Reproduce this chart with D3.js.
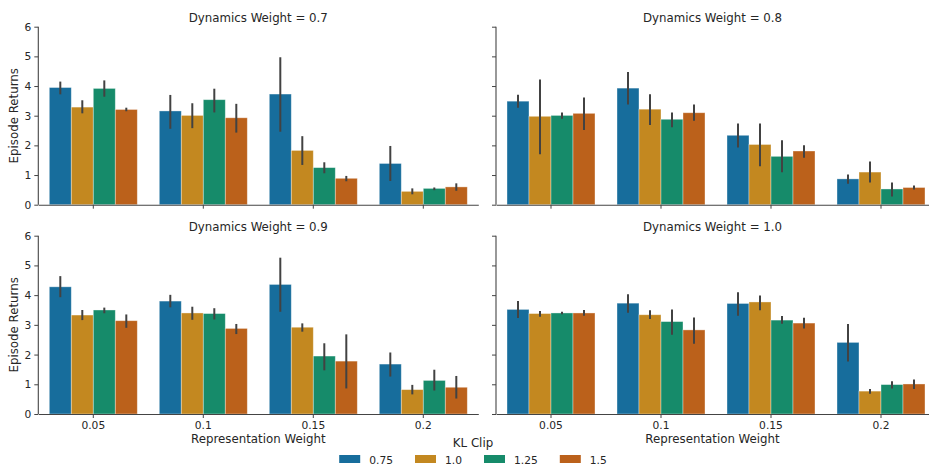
<!DOCTYPE html>
<html>
<head>
<meta charset="utf-8">
<script src="https://cdn.jsdelivr.net/npm/d3@7"></script>
<style>
  body { margin: 0; background: #fff; }
  svg { display: block; font-family: "DejaVu Sans", sans-serif; }
</style>
</head>
<body>
<svg id="chart" width="929" height="468"></svg>
<script>
// the data
const repWeights = ["0.05", "0.1", "0.15", "0.2"];
const klClips = ["0.75", "1.0", "1.25", "1.5"];
const dynWeights = ["0.7", "0.8", "0.9", "1.0"];
const yTicks = [0, 1, 2, 3, 4, 5, 6];

// mean returns, one row per rep weight, one column per KL clip
const means07 = [[3.95, 3.29, 3.92, 3.21], [3.16, 3.01, 3.54, 2.93], [3.73, 1.83, 1.25, 0.89], [1.39, 0.45, 0.55, 0.60]];
const means08 = [[3.49, 2.98, 3.01, 3.08], [3.93, 3.22, 2.88, 3.10], [2.34, 2.03, 1.63, 1.81], [0.87, 1.10, 0.53, 0.58]];
const means09 = [[4.28, 3.33, 3.50, 3.14], [3.80, 3.40, 3.38, 2.88], [4.36, 2.92, 1.95, 1.78], [1.68, 0.82, 1.13, 0.90]];
const means10 = [[3.52, 3.38, 3.40, 3.40], [3.73, 3.34, 3.11, 2.83], [3.72, 3.77, 3.16, 3.06], [2.41, 0.77, 0.99, 1.01]];

// confidence intervals [low, high]
const ci07 = [[[3.72, 4.15], [3.08, 3.52], [3.64, 4.19], [3.15, 3.27]],
              [[2.56, 3.70], [2.58, 3.42], [3.11, 3.91], [2.43, 3.40]],
              [[2.46, 4.97], [1.34, 2.31], [1.06, 1.43], [0.79, 0.97]],
              [[0.80, 1.98], [0.35, 0.55], [0.49, 0.58], [0.47, 0.72]]];
const ci08 = [[[3.27, 3.71], [1.70, 4.22], [2.90, 3.11], [2.52, 3.61]],
              [[3.38, 4.47], [2.69, 3.72], [2.61, 3.11], [2.83, 3.38]],
              [[1.93, 2.74], [1.30, 2.74], [1.09, 2.17], [1.58, 2.00]],
              [[0.71, 1.02], [0.75, 1.46], [0.28, 0.75], [0.51, 0.65]]];
const ci09 = [[[3.93, 4.64], [3.16, 3.50], [3.39, 3.58], [2.90, 3.35]],
              [[3.59, 4.01], [3.17, 3.61], [3.18, 3.56], [2.69, 3.03]],
              [[3.44, 5.26], [2.77, 3.05], [1.47, 2.38], [0.86, 2.68]],
              [[1.26, 2.07], [0.66, 0.98], [0.79, 1.49], [0.52, 1.28]]];
const ci10 = [[[3.23, 3.80], [3.27, 3.47], [3.36, 3.44], [3.31, 3.50]],
              [[3.41, 4.03], [3.20, 3.49], [2.67, 3.52], [2.36, 3.25]],
              [[3.31, 4.10], [3.49, 3.99], [3.04, 3.30], [2.88, 3.24]],
              [[1.77, 3.03], [0.68, 0.84], [0.86, 1.10], [0.84, 1.16]]];

const allMeans = [means07, means08, means09, means10];
const allCi = [ci07, ci08, ci09, ci10];

// seaborn colorblind, desaturated like barplot does
const colors = ["#176d9c", "#c38820", "#168b6a", "#bb611b"];

const svg = d3.select("#chart");

// panel boxes
const cols = [[38.3, 478.3], [496, 936]];
const rows = [[26.7, 204.7], [235.7, 414]];

const hue = d3.scaleOrdinal().domain(klClips).range(colors);

dynWeights.forEach(function (dw, i) {
    let c = i % 2, r = Math.floor(i / 2);
    let x = d3.scaleBand().domain(repWeights).range(cols[c]).padding(0);
    let xInner = d3.scaleBand().domain(klClips)
        .range([x.bandwidth() * 0.1, x.bandwidth() * 0.9]);
    let y = d3.scaleLinear().domain([0, 6]).range([rows[r][1], rows[r][0]]);

    let g = svg.append("g");

    // bars
    repWeights.forEach(function (rw, a) {
        klClips.forEach(function (kc, b) {
            let v = allMeans[i][a][b];
            let e = allCi[i][a][b];
            let bx = x(rw) + xInner(kc);
            g.append("rect")
                .attr("x", bx)
                .attr("y", y(v))
                .attr("width", xInner.bandwidth())
                .attr("height", y(0) - y(v))
                .attr("fill", hue(kc))
                .attr("stroke", "rgba(255,255,255,0.45)")
                .attr("stroke-width", 0.8);
            g.append("line")
                .attr("x1", bx + xInner.bandwidth() / 2)
                .attr("x2", bx + xInner.bandwidth() / 2)
                .attr("y1", y(e[0]))
                .attr("y2", y(e[1]))
                .attr("stroke", "#424242")
                .attr("stroke-width", 2);
        });
    });

    // axes
    let yAxis = d3.axisLeft(y).tickValues(yTicks).tickFormat(d3.format("d"))
        .tickSize(4).tickPadding(3);
    if (c === 1) yAxis.tickFormat("");
    let ga = g.append("g").attr("transform", "translate(" + cols[c][0] + ",0)").call(yAxis);

    let xAxis = d3.axisBottom(x).tickSize(4).tickPadding(3).tickSizeOuter(0);
    if (r === 0) xAxis.tickFormat("");
    let gb = g.append("g").attr("transform", "translate(0," + rows[r][1] + ")").call(xAxis);

    [ga, gb].forEach(function (ax) {
        ax.select(".domain").attr("stroke", "#444").attr("stroke-width", 1.1);
        ax.selectAll(".tick line").attr("stroke", "#444").attr("stroke-width", 1);
        ax.selectAll(".tick text").attr("fill", "#262626")
            .style("font-size", "10.7px").style("font-family", "DejaVu Sans");
    });
    ga.select(".domain").attr("d", "M0," + y(0) + "V" + y(6));

    // title
    g.append("text")
        .attr("x", (cols[c][0] + cols[c][1]) / 2 - (c === 1 ? 3.5 : 0))
        .attr("y", rows[r][0] - 5)
        .attr("text-anchor", "middle")
        .attr("fill", "#262626")
        .style("font-size", "11.8px")
        .text("Dynamics Weight = " + dw);

    if (c === 0) {
        let cy = (rows[r][0] + rows[r][1]) / 2;
        g.append("text")
            .attr("transform", "translate(18," + cy + ") rotate(-90)")
            .attr("text-anchor", "middle")
            .attr("fill", "#262626")
            .style("font-size", "11.8px")
            .text("Episode Returns");
    }
    if (r === 1) {
        g.append("text")
            .attr("x", (cols[c][0] + cols[c][1]) / 2 - (c === 1 ? 3.5 : 0))
            .attr("y", rows[r][1] + 29)
            .attr("text-anchor", "middle")
            .attr("fill", "#262626")
            .style("font-size", "11.8px")
            .text("Representation Weight");
    }
});

// legend
let leg = svg.append("g");
leg.append("text")
    .attr("x", 473).attr("y", 447)
    .attr("text-anchor", "middle")
    .attr("fill", "#262626")
    .style("font-size", "11.8px")
    .text("KL Clip");

let offs = [];
let cx = 0;
let items = klClips.map(function (kc) {
    let it = leg.append("g");
    it.append("rect").attr("x", 0).attr("y", 455).attr("width", 21).attr("height", 8)
        .attr("fill", hue(kc));
    let t = it.append("text").attr("x", 30).attr("y", 464)
        .attr("fill", "#262626").style("font-size", "10.7px").text(kc);
    let w = t.node().getComputedTextLength();
    offs.push(cx);
    cx += 30 + w + 22;
    return it;
});
let total = cx - 22;
items.forEach(function (it, k) {
    it.attr("transform", "translate(" + (473 - total / 2 + offs[k]) + ",0)");
});
</script>
</body>
</html>
